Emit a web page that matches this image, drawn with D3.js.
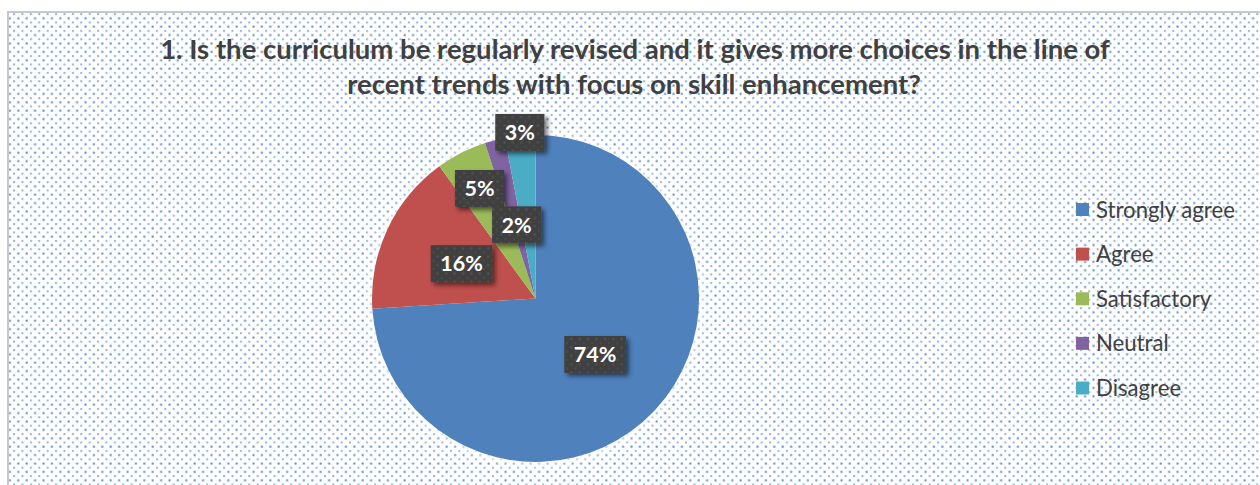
<!DOCTYPE html>
<html>
<head>
<meta charset="utf-8">
<script src="https://cdn.jsdelivr.net/npm/d3@7/dist/d3.min.js"></script>
<style>
  html, body { margin: 0; padding: 0; background: #ffffff; }
  svg { display: block; }
</style>
</head>
<body>
<svg id="chart" width="1260" height="485"></svg>
<script>
// ---- data ----
const categories = ["Strongly agree", "Agree", "Satisfactory", "Neutral", "Disagree"];
const values = [74, 16, 5, 2, 3];
const labels = ["74%", "16%", "5%", "2%", "3%"];
const colors = ["#4F81BD", "#C0504D", "#9BBB59", "#8064A2", "#4BACC6"];
const titleLines = [
  "1. Is the curriculum be regularly revised and it gives more choices in the line of",
  "recent trends with focus on skill enhancement?"
];
// label placement (fraction of radius along each slice's mid angle)
const labelRadiusFactor = [0.5, 0.5, 0.755, 0.465, 1.02];

// ---- layout ----
const W = 1260, H = 485;
const cx = 535.5, cy = 298.5, R = 163.5;

const svg = d3.select("#chart");
const defs = svg.append("defs");

// dotted background pattern
const pat = defs.append("pattern")
  .attr("id", "dots").attr("patternUnits", "userSpaceOnUse")
  .attr("width", 8.4).attr("height", 8.4);
pat.append("rect").attr("width", 8.4).attr("height", 8.4).attr("fill", "#ffffff");
pat.append("rect").attr("x", 0.5).attr("y", 0.5).attr("width", 2).attr("height", 2).attr("fill", "#4F81BD").attr("opacity", 0.95);
pat.append("rect").attr("x", 4.7).attr("y", 4.7).attr("width", 2).attr("height", 2).attr("fill", "#4F81BD").attr("opacity", 0.6);

// dotted pattern for label boxes
const pat2 = defs.append("pattern")
  .attr("id", "boxdots").attr("patternUnits", "userSpaceOnUse")
  .attr("width", 8.4).attr("height", 8.4);
pat2.append("rect").attr("width", 8.4).attr("height", 8.4).attr("fill", "#404040");
pat2.append("rect").attr("x", 0.5).attr("y", 0.5).attr("width", 1.8).attr("height", 1.8).attr("fill", "#5a5a5a");
pat2.append("rect").attr("x", 4.7).attr("y", 4.7).attr("width", 1.8).attr("height", 1.8).attr("fill", "#4d4d4d");

// glow filter for pie
const glow = defs.append("filter").attr("id", "glow").attr("x", "-20%").attr("y", "-20%").attr("width", "140%").attr("height", "140%");
glow.append("feGaussianBlur").attr("stdDeviation", 4);

// shadow for label boxes
const sh = defs.append("filter").attr("id", "shadow").attr("x", "-30%").attr("y", "-30%").attr("width", "170%").attr("height", "170%");
sh.append("feGaussianBlur").attr("in", "SourceAlpha").attr("stdDeviation", 2.5).attr("result", "b");
sh.append("feOffset").attr("in", "b").attr("dx", 3).attr("dy", 3).attr("result", "o");
sh.append("feComponentTransfer").attr("in", "o").attr("result", "o2")
  .append("feFuncA").attr("type", "linear").attr("slope", 0.55);
const mg = sh.append("feMerge");
mg.append("feMergeNode").attr("in", "o2");
mg.append("feMergeNode").attr("in", "SourceGraphic");

// background
svg.append("rect").attr("width", W).attr("height", H).attr("fill", "#ffffff");
svg.append("rect").attr("x", 8).attr("y", 12).attr("width", W).attr("height", H)
  .attr("fill", "url(#dots)").attr("stroke", "#c8c8c8").attr("stroke-width", 2);

// title
const titleG = svg.append("g");
const t1 = titleG.append("text").attr("x", 635).attr("y", 59).attr("text-anchor", "middle")
  .attr("font-family", "Lato, 'Open Sans', sans-serif").attr("font-weight", 700)
  .attr("fill", "#404040").attr("font-size", 24).text(titleLines[0]);
const w1 = t1.node().getComputedTextLength();
const fs = 24 * 950 / w1;
t1.attr("font-size", fs);
titleG.append("text").attr("x", 634).attr("y", 94).attr("text-anchor", "middle")
  .attr("font-family", "Lato, 'Open Sans', sans-serif").attr("font-weight", 700)
  .attr("fill", "#404040").attr("font-size", fs).text(titleLines[1]);

// pie
const pie = d3.pie().sort(null).value(d => d).startAngle(0).endAngle(2 * Math.PI);
const arcs = pie(values);
const arc = d3.arc().innerRadius(0).outerRadius(R);
const pieG = svg.append("g").attr("transform", `translate(${cx},${cy})`);

pieG.append("circle").attr("r", R + 2).attr("fill", "#ffffff").attr("opacity", 0.9).attr("filter", "url(#glow)");

pieG.selectAll("path.slice").data(arcs).join("path")
  .attr("class", "slice")
  .attr("d", arc)
  .attr("fill", (d, i) => colors[i]);

// data labels
const lblG = pieG.selectAll("g.lbl").data(arcs).join("g").attr("class", "lbl")
  .attr("transform", (d, i) => {
    const a = (d.startAngle + d.endAngle) / 2;
    const r = R * labelRadiusFactor[i];
    return `translate(${r * Math.sin(a)},${-r * Math.cos(a)})`;
  });
lblG.each(function(d, i) {
  const g = d3.select(this);
  const t = g.append("text").attr("text-anchor", "middle").attr("dy", "0.36em")
    .attr("font-family", "Lato, 'Open Sans', sans-serif").attr("font-weight", 700)
    .attr("font-size", 21.5).attr("fill", "#ffffff").text(labels[i]);
  const tw = t.node().getComputedTextLength();
  const bw = tw + 19, bh = 37;
  g.insert("rect", "text").attr("x", -bw / 2).attr("y", -bh / 2).attr("width", bw).attr("height", bh)
    .attr("fill", "url(#boxdots)").attr("filter", "url(#shadow)");
});

// legend
const legG = svg.append("g");
const rowY = d3.scalePoint().domain(categories).range([209.5, 388]);
const leg = legG.selectAll("g").data(categories).join("g")
  .attr("transform", d => `translate(1076,${rowY(d)})`);
leg.append("rect").attr("x", 0).attr("y", -6.5).attr("width", 13).attr("height", 13)
  .attr("fill", (d, i) => colors[i]);
const legText = leg.append("text").attr("x", 20).attr("dy", "0.36em")
  .attr("font-family", "Lato, 'Open Sans', sans-serif")
  .attr("font-size", 20).attr("fill", "#404040").text(d => d);
const lw = legText.nodes()[0].getComputedTextLength();
legText.attr("font-size", 20 * 139 / lw);
</script>
</body>
</html>
